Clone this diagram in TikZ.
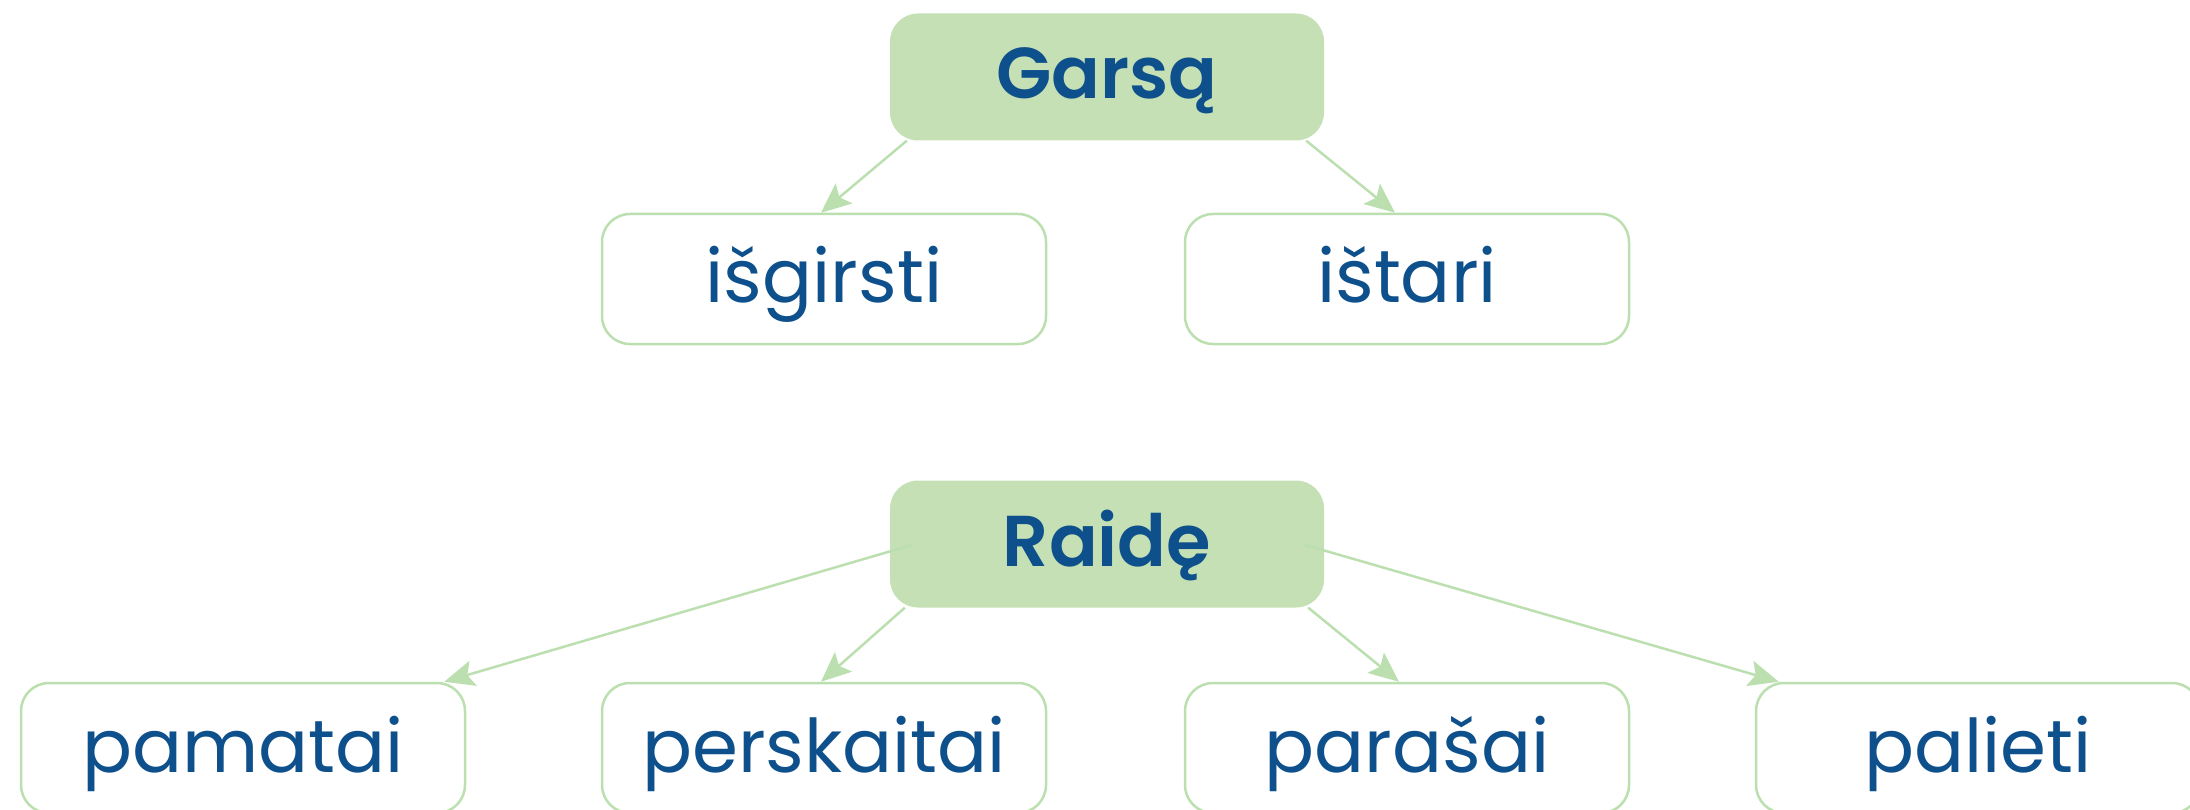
\documentclass[tikz,border=0pt]{standalone}
\usepackage{fontspec}
\setmainfont{Poppins}[BoldFont={Poppins SemiBold}]
\usetikzlibrary{calc,arrows.meta}
\definecolor{txtblue}{HTML}{0E508C}
\definecolor{boxgreen}{HTML}{C5E0B4}
\definecolor{linegreen}{HTML}{BCDFB0}
\begin{document}
\begin{tikzpicture}[x=1pt,y=-1pt,
  headbox/.style={rectangle, rounded corners=28pt, fill=boxgreen, draw=none, minimum width=434pt, minimum height=127pt, inner sep=0pt, text=txtblue, font=\fontsize{72}{80}\selectfont\bfseries, text height=56pt, text depth=12pt},
  leafbox/.style={rectangle, rounded corners=28pt, fill=white, draw=linegreen, line width=2.5pt, minimum width=444pt, minimum height=130pt, inner sep=0pt, text=txtblue, font=\fontsize{74}{80}\selectfont, text height=60pt, text depth=12pt},
  link/.style={draw=linegreen, line width=2.5pt, -{Stealth[length=30pt,width=26pt,inset=6pt]}}
]
\useasboundingbox (0,0) rectangle (2190,810);
\node[headbox] (garsa) at (1107,77) {Garsą};
\node[leafbox] (isgirsti) at (824,279) {išgirsti};
\node[leafbox] (istari) at (1407,279) {ištari};
\node[headbox] (raide) at (1107,544) {Raidę};
\node[leafbox] (pamatai) at (243,748) {pamatai};
\node[leafbox] (perskaitai) at (824,748) {perskaitai};
\node[leafbox] (parasai) at (1407,748) {parašai};
\node[leafbox] (palieti) at (1978,748) {palieti};
\draw[link] ($(garsa.south west)+(17,0)$) -- ($(isgirsti.north)+(-3,0)$);
\draw[link] ($(garsa.south east)+(-18,0)$) -- ($(istari.north)+(-12,0)$);
\draw[link] ($(raide.west)+(22,1)$) -- ($(pamatai.north east)+(-22,0)$);
\draw[link] ($(raide.south west)+(15,0)$) -- ($(perskaitai.north)+(-3,0)$);
\draw[link] ($(raide.south east)+(-16,0)$) -- ($(parasai.north)+(-8,0)$);
\draw[link] ($(raide.east)+(-19,1)$) -- ($(palieti.north west)+(24,0)$);
\end{tikzpicture}
\end{document}
